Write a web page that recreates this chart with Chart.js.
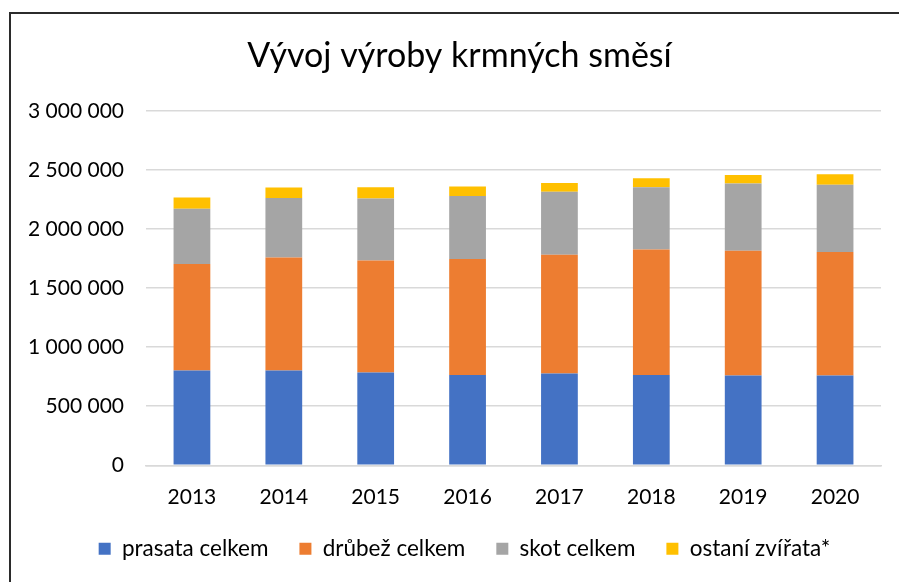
<!DOCTYPE html>
<html>
<head>
<meta charset="utf-8">
<script src="https://cdn.jsdelivr.net/npm/chart.js@4/dist/chart.umd.min.js"></script>
<style>
  html, body { margin: 0; padding: 0; background: #fff; }
  #wrap { position: relative; width: 899px; height: 582px; overflow: hidden; }
  #frame { position: absolute; left: 9px; top: 12px; width: 910px; height: 600px; border: 2px solid #2b2b2b; box-sizing: border-box; }
  canvas { position: absolute; left: 0; top: 0; }
</style>
</head>
<body>
<div id="wrap">
  <div id="frame"></div>
  <canvas id="chart" width="899" height="582"></canvas>
</div>
<script>
const years = ['2013', '2014', '2015', '2016', '2017', '2018', '2019', '2020'];
const prasata = [802000, 802000, 785000, 765000, 776000, 765000, 759000, 759000];
const drubez = [901000, 957000, 949000, 981000, 1006000, 1062000, 1057000, 1046000];
const skot = [469000, 504000, 523000, 534000, 534000, 526000, 568000, 570000];
const ostatni = [94000, 87000, 96000, 79000, 74000, 76000, 73000, 88000];

const fontFamily = "Lato, 'Open Sans', sans-serif";

function fmt(v) {
  return String(v).replace(/\B(?=(\d{3})+(?!\d))/g, ' ');
}

const ds = (label, data, color) => ({
  label, data,
  backgroundColor: color,
  borderWidth: 0,
  barPercentage: 0.4,
  categoryPercentage: 1,
});

// title and legend are centred on the frame, not on the canvas
const shiftBlocks = {
  id: 'shiftBlocks',
  afterLayout(chart) {
    if (chart.titleBlock) chart.titleBlock.left += 28;
    if (chart.legend) chart.legend.left += 38;
  },
};

new Chart(document.getElementById('chart'), {
  type: 'bar',
  data: {
    labels: years,
    datasets: [
      ds('prasata celkem', prasata, '#4472c4'),
      ds('drůbež celkem', drubez, '#ed7d31'),
      ds('skot celkem', skot, '#a5a5a5'),
      ds('ostaní zvířata*', ostatni, '#ffc000'),
    ],
  },
  plugins: [shiftBlocks],
  options: {
    responsive: false,
    animation: false,
    layout: { padding: { left: 10, right: 18, top: 18, bottom: 12 } },
    plugins: {
      title: {
        display: true,
        text: 'Vývoj výroby krmných směsí',
        color: '#000',
        font: { family: fontFamily, size: 34, weight: 'normal' },
        padding: { top: 18, bottom: 34 },
      },
      legend: {
        position: 'bottom',
        labels: {
          color: '#000',
          font: { family: fontFamily, size: 22.5 },
          boxWidth: 12,
          boxHeight: 12,
          padding: 31,
        },
      },
      tooltip: { enabled: false },
    },
    scales: {
      x: {
        stacked: true,
        afterFit: (scale) => { scale.height -= 14; },
        grid: { display: false },
        border: { color: '#d9d9d9', width: 1.5 },
        ticks: { color: '#000', font: { family: fontFamily, size: 21 }, padding: 11 },
      },
      y: {
        stacked: true,
        min: 0,
        max: 3000000,
        afterFit: (scale) => { scale.width = 136; },
        grid: { color: '#d9d9d9', lineWidth: 1.5, drawTicks: false },
        border: { display: false },
        ticks: {
          stepSize: 500000,
          color: '#000',
          padding: 22,
          font: { family: fontFamily, size: 21 },
          callback: (v) => fmt(v),
        },
      },
    },
  },
});
</script>
</body>
</html>
